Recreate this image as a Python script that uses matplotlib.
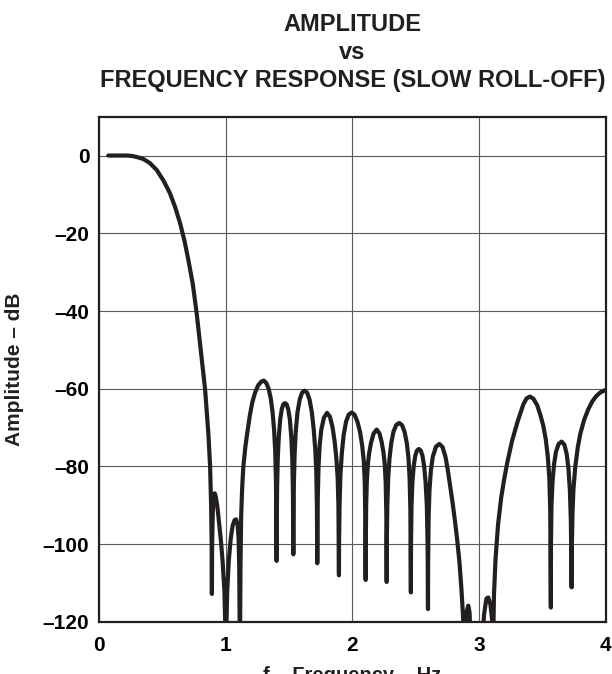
import matplotlib
matplotlib.use('Agg')
import matplotlib.pyplot as plt

# values, one line per lobe (Hz / dB)
freq = [
    0.073, 0.15, 0.22, 0.26, 0.30, 0.35, 0.40, 0.455, 0.51, 0.56, 0.60, 0.64, 0.675, 0.705, 0.74, 0.771, 0.797, 0.837, 0.863, 0.877, 0.885, 0.889, 0.891,
    0.893, 0.898, 0.905, 0.913, 0.922, 0.935, 0.948, 0.962, 0.976, 0.990, 1.000,
    1.003, 1.012, 1.025, 1.040, 1.055, 1.070, 1.082, 1.094, 1.102, 1.107, 1.111,
    1.114, 1.117, 1.122, 1.130, 1.139, 1.155, 1.171, 1.190, 1.210, 1.232, 1.255, 1.280, 1.300, 1.320, 1.339, 1.356, 1.370, 1.382, 1.391, 1.397, 1.402,
    1.403, 1.406, 1.411, 1.419, 1.430, 1.443, 1.455, 1.468, 1.481, 1.494, 1.507, 1.518, 1.526, 1.531, 1.534,
    1.535, 1.538, 1.544, 1.553, 1.567, 1.585, 1.603, 1.623, 1.643, 1.662, 1.680, 1.695, 1.707, 1.715, 1.720, 1.723,
    1.724, 1.727, 1.733, 1.742, 1.755, 1.775, 1.800, 1.823, 1.843, 1.860, 1.874, 1.884, 1.890, 1.894,
    1.895, 1.899, 1.906, 1.917, 1.931, 1.950, 1.970, 1.994, 2.018, 2.040, 2.060, 2.077, 2.090, 2.098, 2.102, 2.105,
    2.106, 2.109, 2.114, 2.122, 2.133, 2.148, 2.168, 2.192, 2.214, 2.232, 2.246, 2.256, 2.263, 2.268, 2.271,
    2.272, 2.276, 2.283, 2.293, 2.307, 2.325, 2.347, 2.370, 2.393, 2.413, 2.430, 2.443, 2.452, 2.458, 2.462,
    2.463, 2.467, 2.474, 2.484, 2.496, 2.510, 2.525, 2.540, 2.554, 2.567, 2.578, 2.588, 2.594, 2.597,
    2.598, 2.602, 2.609, 2.620, 2.635, 2.660, 2.687, 2.712, 2.735, 2.752, 2.770, 2.790, 2.810, 2.828, 2.845, 2.860, 2.873, 2.882,
    2.895, 2.905, 2.915, 2.925, 2.935,
    3.025, 3.040, 3.058, 3.073, 3.090, 3.105, 3.112,
    3.118, 3.130, 3.150, 3.175, 3.200, 3.223, 3.260, 3.304, 3.350, 3.375, 3.402, 3.430, 3.460, 3.485, 3.507, 3.527, 3.543, 3.555, 3.562, 3.567,
    3.568, 3.572, 3.580, 3.592, 3.607, 3.628, 3.652, 3.674, 3.692, 3.706, 3.717, 3.725, 3.731,
    3.733, 3.738, 3.745, 3.760, 3.780, 3.800, 3.830, 3.862, 3.895, 3.928, 3.960, 3.993, 4.000,
]
amp = [
    0, 0, 0, -0.1, -0.4, -0.9, -1.9, -3.7, -6.5, -9.7, -13.2, -17.4, -22, -26.8, -33, -40.6, -48.3, -60, -71.4, -80, -90, -100, -112.8,
    -100, -92, -88, -86.9, -87.8, -90.5, -94.5, -99, -104.5, -112, -125,
    -125, -112, -104, -98.5, -95.2, -93.8, -93.6, -95, -98.5, -106, -125,
    -120, -105, -93, -85.5, -80.2, -75, -71.2, -67, -63.5, -61, -59.2, -58.2, -57.9, -58.5, -60, -62.5, -66, -70.5, -76, -84, -104.3,
    -95, -85, -78, -72.5, -68, -65.2, -64, -63.7, -64, -65.3, -68, -72.5, -78, -87, -102.6,
    -95, -85, -77, -71, -66, -62.7, -61, -60.5, -61, -62.8, -66, -70.5, -75.5, -81, -90, -104.9,
    -100, -88, -80, -74.5, -70.5, -67.5, -66.2, -67.2, -69.8, -73.5, -78, -83, -90, -108,
    -100, -90, -82, -76.5, -72, -68.5, -66.7, -66.1, -66.7, -68.5, -71, -74.5, -78.5, -84, -93, -109.2,
    -100, -90, -84, -79.5, -76.5, -73.8, -71.5, -70.5, -71.5, -73.8, -76.5, -79.5, -84, -92, -109.7,
    -100, -90, -83, -78, -74, -71, -69.3, -68.8, -69.4, -71.2, -74, -77.8, -83, -91, -112.4,
    -100, -90, -84, -80, -77.3, -75.9, -75.5, -75.9, -77.3, -80, -84, -90, -100, -116.7,
    -105, -93, -86, -81, -77.5, -74.9, -74.2, -75, -77.5, -80.6, -84.5, -89, -94, -99, -104.5, -111, -118, -125,
    -125, -117, -115.8, -117.5, -125,
    -125, -118, -114, -113.7, -115.5, -120, -125,
    -113, -104, -95, -88, -83, -79, -73.5, -68.5, -64, -62.5, -62, -62.6, -64.3, -66.8, -69.5, -73, -77.5, -83, -91, -116.3,
    -100, -90, -84, -79.5, -76.3, -74.2, -73.6, -74.4, -76.8, -80.5, -86, -94, -111.1,
    -100, -92, -86, -80, -75, -71.5, -68, -65.3, -63.2, -61.8, -60.9, -60.4, -60.3,
]

x_ticks = [0, 1, 2, 3, 4]
y_ticks = [-120, -100, -80, -60, -40, -20, 0]
y_labels = ['\u2013120', '\u2013100', '\u201380', '\u201360', '\u201340', '\u201320', '0']

plt.rcParams['font.family'] = ['Liberation Sans', 'DejaVu Sans']
plt.rcParams['font.weight'] = 'bold'

fig = plt.figure(figsize=(6.12, 6.74), dpi=100)
ax = fig.add_axes([0.1618, 0.0772, 0.9897 - 0.1618, 0.8269 - 0.0772])

ax.plot(freq, amp, color='#231f20', linewidth=3.0,
        solid_joinstyle='round', solid_capstyle='round')

ax.set_xlim(0, 4)
ax.set_ylim(-120, 10)
ax.set_xticks(x_ticks)
ax.set_xticklabels([str(t) for t in x_ticks])
ax.set_yticks(y_ticks)
ax.set_yticklabels(y_labels)
ax.tick_params(axis='both', length=0, labelsize=15)
ax.tick_params(axis='x', pad=10)
ax.tick_params(axis='y', pad=7)
for lbl in ax.get_xticklabels() + ax.get_yticklabels():
    lbl.set_fontweight('bold')

ax.grid(True, color='#58595b', linewidth=0.8)
ax.set_axisbelow(True)
for s in ax.spines.values():
    s.set_linewidth(1.6)
    s.set_color('#231f20')

# titles / labels placed in figure pixels
cx = (99 + 605.7) / 2 / 612
title_lines = ['AMPLITUDE', 'vs', 'FREQUENCY RESPONSE (SLOW ROLL-OFF)']
baselines = [31, 59, 87]
for t, b in zip(title_lines, baselines):
    fig.text(cx, 1 - b / 674, t, ha='center', va='baseline',
             fontsize=17, fontweight='bold', color='#231f20')

fig.text(15 / 612, (674 - 369) / 674, 'Amplitude \u2013 dB', rotation=90,
         ha='center', va='center', fontsize=15, fontweight='bold', color='#231f20')
# the reference shows this label cut off by the bottom edge
fig.text(cx, (674 - 681) / 674, 'f \u2013 Frequency \u2013 Hz', ha='center',
         va='baseline', fontsize=14.5, fontweight='bold', color='#231f20')

fig.savefig('out.png', dpi=100)
